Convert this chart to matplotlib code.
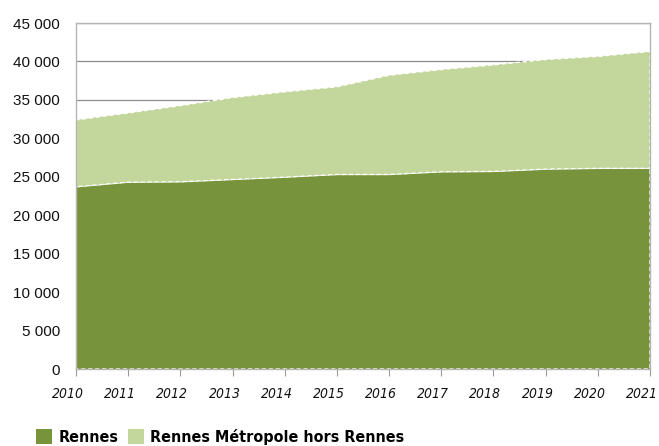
import matplotlib.pyplot as plt
import matplotlib.transforms as mtransforms
from matplotlib.patches import Patch
from matplotlib.ticker import FuncFormatter
from matplotlib import font_manager

# Population, Rennes vs rest of the métropole
years = [2010, 2011, 2012, 2013, 2014, 2015, 2016, 2017, 2018, 2019, 2020, 2021]
rennes = [23700, 24300, 24350, 24650, 24950, 25300, 25300, 25650, 25700, 26000, 26100, 26100]
hors_rennes = [8700, 9000, 9900, 10650, 11100, 11400, 12900, 13300, 13850, 14250, 14550, 15200]
labels = ["Rennes", "Rennes Métropole hors Rennes"]
colors = ["#77933c", "#c3d69b"]

names = {f.name for f in font_manager.fontManager.ttflist}
narrow = "Liberation Sans Narrow" if "Liberation Sans Narrow" in names else "DejaVu Sans"

fig = plt.figure(figsize=(6.59, 4.46), dpi=100)
ax = fig.add_axes([0.1153, 0.1726, 0.871, 0.7758])

ax.stackplot(years, rennes, hors_rennes, colors=colors,
             edgecolor="white", linewidth=1.0, linestyle=(0, (3, 2)), zorder=2)

ax.set_xlim(2010, 2021)
ax.set_ylim(0, 45000)
ax.set_yticks(range(0, 45001, 5000))
ax.yaxis.set_major_formatter(FuncFormatter(lambda v, p: f"{int(v):,}".replace(",", " ")))
ax.set_xticks(years)
ax.grid(axis="y", color="#8c8c8c", linewidth=0.9, zorder=0)
ax.set_axisbelow(True)

for s in ax.spines.values():
    s.set_color("#b5b5b5")
    s.set_linewidth(1.0)
    s.set_zorder(3)

ax.tick_params(axis="y", length=0, pad=11.5, labelsize=11, labelcolor="#111111")
ax.tick_params(axis="x", length=5, color="#9a9a9a", pad=8)
for lab in ax.get_yticklabels():
    lab.set_family("Liberation Sans")

# year labels sit a little left of their ticks
shift = mtransforms.ScaledTranslation(-8 / 100, 0, fig.dpi_scale_trans)
for lab in ax.get_xticklabels():
    lab.set_family(narrow)
    lab.set_stretch("condensed")
    lab.set_style("italic")
    lab.set_fontsize(10)
    lab.set_color("#111111")
    lab.set_transform(lab.get_transform() + shift)

handles = [Patch(facecolor=c, edgecolor="none") for c in colors]
fig.legend(handles=handles, labels=labels, loc="center left", bbox_to_anchor=(0.045, 0.02),
           frameon=False, ncol=2, handlelength=1.0, handleheight=1.0, handletextpad=0.4,
           columnspacing=0.6, borderaxespad=0,
           prop={"family": narrow, "stretch": "condensed", "weight": "bold", "size": 11.5})

fig.savefig("out.png", dpi=100)
